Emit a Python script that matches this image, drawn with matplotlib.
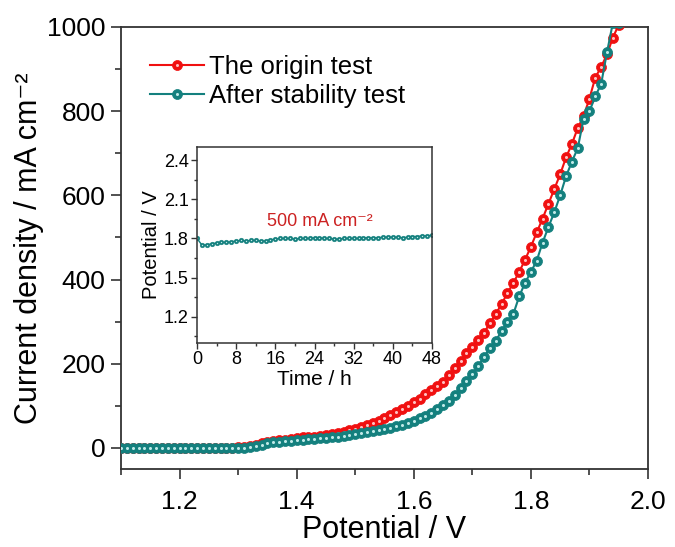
import numpy as np
import matplotlib
matplotlib.use("Agg")
import matplotlib.pyplot as plt
from matplotlib.legend_handler import HandlerTuple
from matplotlib.ticker import MultipleLocator

plt.rcParams['font.family'] = ['Liberation Sans', 'DejaVu Sans']

# ---------------- data ----------------
potential = np.round(np.arange(1.10, 1.955, 0.01), 2)   # V, 1.10 ... 1.95

origin_test = [
    0, 0, 0, 0, 0, 0, 0, 0, 0, 0,            # 1.10-1.19
    0, 0, 0, 0, 0, 0, 0, 0, 0, 1,            # 1.20-1.29
    2, 3, 5, 8, 11, 14, 16, 18, 20, 22,      # 1.30-1.39
    24, 25, 26, 27, 29, 31, 33, 36, 39, 42,  # 1.40-1.49
    46, 50, 54, 59, 65, 71, 78, 85, 92, 99,  # 1.50-1.59
    108, 117, 127, 138, 148, 157, 174, 190, 207, 225,   # 1.60-1.69
    241, 257, 274, 296, 318, 342, 368, 392, 418, 447,   # 1.70-1.79
    478, 512, 545, 580, 615, 650, 690, 722, 760, 788,   # 1.80-1.89
    830, 880, 905, 935, 975, 1005,                      # 1.90-1.95
]

after_stability = [
    0, 0, 0, 0, 0, 0, 0, 0, 0, 0,            # 1.10-1.19
    0, 0, 0, 0, 0, 0, 0, 0, 0, 0,            # 1.20-1.29
    1, 1, 2, 4, 8, 11, 13, 14, 16, 17,       # 1.30-1.39
    19, 20, 21, 22, 23, 24, 25, 27, 29, 31,  # 1.40-1.49
    33, 35, 37, 40, 42, 45, 48, 51, 55, 59,  # 1.50-1.59
    64, 70, 76, 84, 92, 101, 112, 125, 142, 158,        # 1.60-1.69
    175, 195, 215, 238, 255, 277, 300, 318, 360, 392,   # 1.70-1.79
    418, 445, 488, 525, 560, 600, 645, 680, 712, 782,   # 1.80-1.89
    800, 835, 865, 940, 1010, 1010,                     # 1.90-1.95
]

time_h = np.arange(0, 49, 1)
stability_potential = [
    1.80, 1.75, 1.75, 1.76, 1.765, 1.77, 1.77, 1.775, 1.78, 1.785,
    1.78, 1.785, 1.785, 1.78, 1.78, 1.79, 1.795, 1.80, 1.80, 1.80,
    1.795, 1.80, 1.80, 1.80, 1.805, 1.805, 1.80, 1.80, 1.795, 1.795,
    1.80, 1.80, 1.80, 1.80, 1.805, 1.805, 1.805, 1.805, 1.81, 1.81,
    1.81, 1.81, 1.805, 1.81, 1.815, 1.815, 1.82, 1.82, 1.825,
]

RED = '#F01010'
TEAL = '#14807E'
SPINE = '#333333'

fig = plt.figure(figsize=(6.75, 5.47), dpi=100)
ax = fig.add_axes([121/675, 78/547, 527/675, 442/547])

ms = 7.2
l1, = ax.plot(potential, origin_test, '-o', color=RED, lw=1.5, ms=ms,
              mec=RED, mfc=RED, mew=0.5, zorder=3)
h1, = ax.plot(potential, origin_test, 'o', color='#FFC0C0', ms=2.2, mew=0, zorder=3.1)
l2, = ax.plot(potential, after_stability, '-o', color=TEAL, lw=1.5, ms=ms,
              mec=TEAL, mfc=TEAL, mew=0.5, zorder=4)
h2, = ax.plot(potential, after_stability, 'o', color='#BFEAE8', ms=2.2, mew=0, zorder=4.1)

ax.set_xlim(1.1, 2.0)
ax.set_ylim(-50, 1000)
ax.xaxis.set_minor_locator(MultipleLocator(0.1))
ax.yaxis.set_major_locator(MultipleLocator(200))
ax.yaxis.set_minor_locator(MultipleLocator(100))
ax.set_xticks([1.2, 1.4, 1.6, 1.8, 2.0])
ax.set_xticklabels(['1.2', '1.4', '1.6', '1.8', '2.0'])
ax.tick_params(which='both', direction='out', top=False, right=False,
               color=SPINE, width=1.2, labelsize=19, labelcolor='black')
ax.tick_params(which='major', length=7, pad=4)
ax.tick_params(which='minor', length=4)
ax.tick_params(axis='x', which='major', pad=8)
for s in ax.spines.values():
    s.set_color(SPINE)
    s.set_linewidth(1.3)

ax.set_xlabel('Potential / V', fontsize=22, labelpad=1)
ax.set_ylabel('Current density / mA cm\u207B\u00B2', fontsize=22, labelpad=2)

leg = ax.legend([(l1, h1), (l2, h2)], ['The origin test', 'After stability test'],
                handler_map={tuple: HandlerTuple(ndivide=1)},
                loc='upper left', bbox_to_anchor=(0.035, 0.96), frameon=False,
                fontsize=18.5, handlelength=2.1, handletextpad=0.2,
                labelspacing=0.2, borderaxespad=0, numpoints=1)

# ---------------- inset ----------------
ins = fig.add_axes([197/675, (547-343)/547, 235/675, 196/547])
ins.plot(time_h, stability_potential, '-o', color=TEAL, lw=1.0, ms=3.4,
         mfc=TEAL, mec=TEAL, mew=0.3)
ins.plot(time_h, stability_potential, 'o', color='#BFEAE8', ms=1.0, mew=0)
ins.set_xlim(0, 48)
ins.set_ylim(1.0, 2.5)
ins.set_xticks([0, 8, 16, 24, 32, 40, 48])
ins.xaxis.set_minor_locator(MultipleLocator(4))
ins.set_yticks([1.2, 1.5, 1.8, 2.1, 2.4])
ins.set_yticklabels(['1.2', '1.5', '1.8', '2.1', '2.4'])
ins.yaxis.set_minor_locator(MultipleLocator(0.15))
ins.tick_params(which='both', direction='out', top=False, right=False,
                color=SPINE, width=1.0, labelsize=13)
ins.tick_params(which='major', length=4, pad=2)
ins.tick_params(which='minor', length=2.5)
for s in ins.spines.values():
    s.set_color(SPINE)
    s.set_linewidth(1.1)
ins.set_xlabel('Time / h', fontsize=15, labelpad=1)
ins.set_ylabel('Potential / V', fontsize=14.5, labelpad=2)
ins.text(25, 1.93, '500 mA cm\u207B\u00B2', color='#CC2222', fontsize=13,
         ha='center', va='center')

fig.savefig('out.png', dpi=100)
